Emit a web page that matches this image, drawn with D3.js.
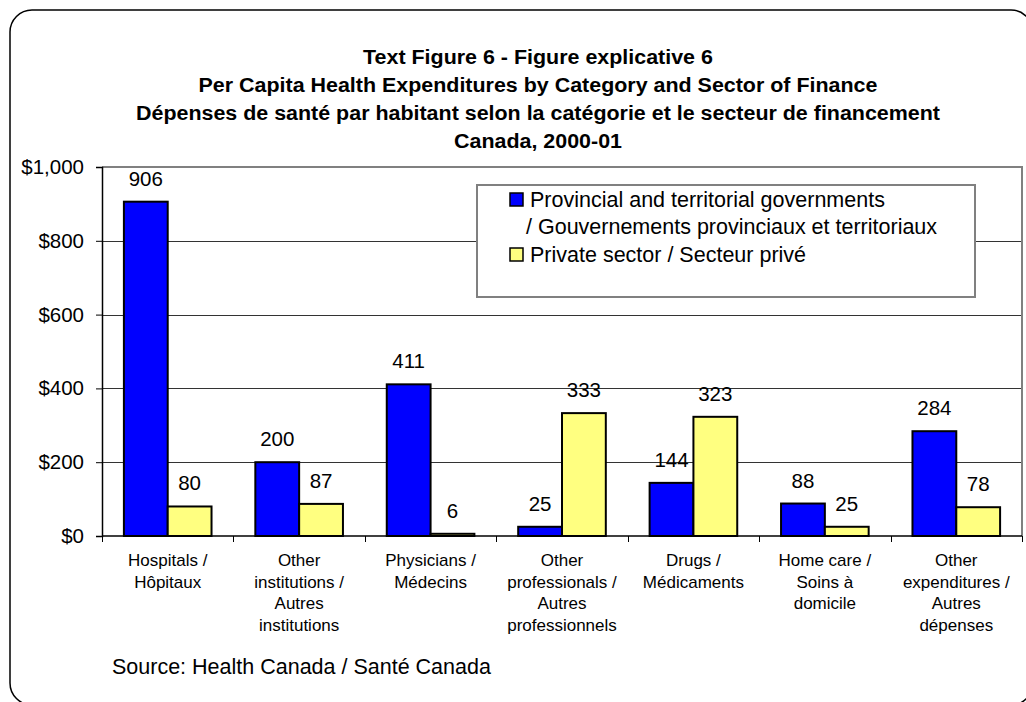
<!DOCTYPE html>
<html>
<head>
<meta charset="utf-8">
<script src="https://cdn.jsdelivr.net/npm/d3@7"></script>
<style>
  html, body { margin: 0; padding: 0; background: #fff; }
  svg { display: block; }
  text { font-family: "Liberation Sans", Arial, sans-serif; fill: #000; }
</style>
</head>
<body>
<svg id="chart" width="1026" height="702"></svg>
<script>
// ---- Data ----
const categories = [
  ["Hospitals /", "Hôpitaux"],
  ["Other", "institutions /", "Autres", "institutions"],
  ["Physicians /", "Médecins"],
  ["Other", "professionals /", "Autres", "professionnels"],
  ["Drugs /", "Médicaments"],
  ["Home care /", "Soins à", "domicile"],
  ["Other", "expenditures /", "Autres", "dépenses"]
];
const seriesNames = ["Provincial and territorial governments / Gouvernements provinciaux et territoriaux", "Private sector / Secteur privé"];
const provincialValues = [906, 200, 411, 25, 144, 88, 284];
const privateValues = [80, 87, 6, 333, 323, 25, 78];
const yTicks = [0, 200, 400, 600, 800, 1000];
const titleLines = [
  "Text Figure 6 - Figure explicative 6",
  "Per Capita Health Expenditures by Category and Sector of Finance",
  "Dépenses de santé par habitant selon la catégorie et le secteur de financement",
  "Canada, 2000-01"
];
const legendLines = [
  ["Provincial and territorial governments", "/ Gouvernements provinciaux et territoriaux"],
  ["Private sector / Secteur privé"]
];
const sourceText = "Source: Health Canada / Santé Canada";
const colors = ["#0000FF", "#FFFF80"];

// ---- Layout ----
const svg = d3.select("#chart");
const plot = { left: 102, right: 1022, top: 167, bottom: 536 };

// Outer rounded frame
svg.append("rect")
  .attr("x", 10).attr("y", 10).attr("width", 1023).attr("height", 695)
  .attr("rx", 22).attr("ry", 22)
  .attr("fill", "#fff").attr("stroke", "#000").attr("stroke-width", 1.5);

// Title (horizontally stretched slightly to match reference rendering)
const title = svg.append("g");
const titleTexts = titleLines.map((t, i) => title.append("text")
    .attr("x", 538).attr("y", 64 + i * 28)
    .attr("text-anchor", "middle")
    .attr("font-weight", "bold")
    .attr("font-size", 20)
    .text(t));
const refLen = titleTexts[2].node().getComputedTextLength();
const stretch = 804 / refLen;
titleTexts.forEach(t => {
  const len = t.node().getComputedTextLength();
  t.attr("textLength", len * stretch).attr("lengthAdjust", "spacingAndGlyphs");
});

// Scales
const catIdx = categories.map((c, i) => i);
const x0 = d3.scaleBand().domain(catIdx).range([plot.left, plot.right]).paddingInner(0).paddingOuter(0);
const bw = x0.bandwidth();
const x1 = d3.scaleBand().domain([0, 1]).range([bw / 6, bw * 5 / 6]).padding(0);
const y = d3.scaleLinear().domain([0, 1000]).range([plot.bottom, plot.top]);

// Gridlines
svg.append("g").selectAll("line")
  .data(yTicks.filter(v => v > 0 && v < 1000))
  .join("line")
  .attr("x1", plot.left).attr("x2", plot.right)
  .attr("y1", d => Math.round(y(d)) + 0.5).attr("y2", d => Math.round(y(d)) + 0.5)
  .attr("stroke", "#333").attr("stroke-width", 1);

// Plot area border (top & right)
svg.append("path")
  .attr("d", `M${plot.left},${plot.top}H${plot.right}V${plot.bottom}`)
  .attr("fill", "none").attr("stroke", "#808080").attr("stroke-width", 2);

// Y axis
const yAxis = d3.axisLeft(y).tickValues(yTicks).tickSize(6).tickPadding(12)
  .tickFormat(d => "$" + d3.format(",")(d));
const yg = svg.append("g").attr("transform", `translate(${plot.left},0)`).call(yAxis);
yg.select(".domain").attr("stroke", "#000").attr("stroke-width", 1.5);
yg.selectAll(".tick line").attr("stroke", "#000");
yg.selectAll(".tick text").attr("font-size", 20.5).attr("font-family", "Liberation Sans, Arial, sans-serif").attr("fill", "#000");

// X axis line and ticks at category boundaries
svg.append("line")
  .attr("x1", plot.left).attr("x2", plot.right)
  .attr("y1", plot.bottom).attr("y2", plot.bottom)
  .attr("stroke", "#000").attr("stroke-width", 1.5);
const boundaries = catIdx.map(i => x0(i)).concat([plot.right]);
svg.append("g").selectAll("line")
  .data(boundaries).join("line")
  .attr("x1", d => Math.round(d) + 0.5).attr("x2", d => Math.round(d) + 0.5)
  .attr("y1", plot.bottom).attr("y2", plot.bottom + 6)
  .attr("stroke", "#000").attr("stroke-width", 1);

// Bars
const seriesValues = [provincialValues, privateValues];
const barData = [];
catIdx.forEach(i => {
  seriesValues.forEach((vals, s) => barData.push({ c: i, s: s, v: vals[i] }));
});
svg.append("g").selectAll("rect")
  .data(barData).join("rect")
  .attr("x", d => x0(d.c) + x1(d.s))
  .attr("y", d => y(d.v))
  .attr("width", x1.bandwidth())
  .attr("height", d => y(0) - y(d.v))
  .attr("fill", d => colors[d.s])
  .attr("stroke", "#000").attr("stroke-width", 2);

// Value labels
svg.append("g").selectAll("text")
  .data(barData).join("text")
  .attr("x", d => x0(d.c) + x1(d.s) + x1.bandwidth() / 2)
  .attr("y", d => y(d.v) - 16)
  .attr("text-anchor", "middle")
  .attr("font-size", 20.5)
  .text(d => d.v);

// Category labels
const catG = svg.append("g");
categories.forEach((lines, i) => {
  const t = catG.append("text")
    .attr("text-anchor", "middle")
    .attr("font-size", 17);
  lines.forEach((ln, j) => {
    t.append("tspan")
      .attr("x", x0(i) + bw / 2)
      .attr("y", 566 + j * 21.7)
      .text(ln);
  });
});

// Legend
const lg = svg.append("g");
lg.append("rect")
  .attr("x", 477).attr("y", 185).attr("width", 498).attr("height", 112)
  .attr("fill", "#fff").attr("stroke", "#808080").attr("stroke-width", 2);
const legendRows = [[207, 234], [262]];
legendLines.forEach((lines, s) => {
  const rowY = legendRows[s];
  lg.append("rect")
    .attr("x", 510).attr("y", rowY[0] - 14).attr("width", 13).attr("height", 13)
    .attr("fill", colors[s]).attr("stroke", "#000").attr("stroke-width", 1.5);
  lines.forEach((ln, j) => {
    lg.append("text")
      .attr("x", j === 0 ? 530 : 526)
      .attr("y", rowY[j])
      .attr("font-size", 21.5)
      .text(ln);
  });
});

// Source
svg.append("text")
  .attr("x", 112).attr("y", 674)
  .attr("font-size", 21.5)
  .text(sourceText);
</script>
</body>
</html>
